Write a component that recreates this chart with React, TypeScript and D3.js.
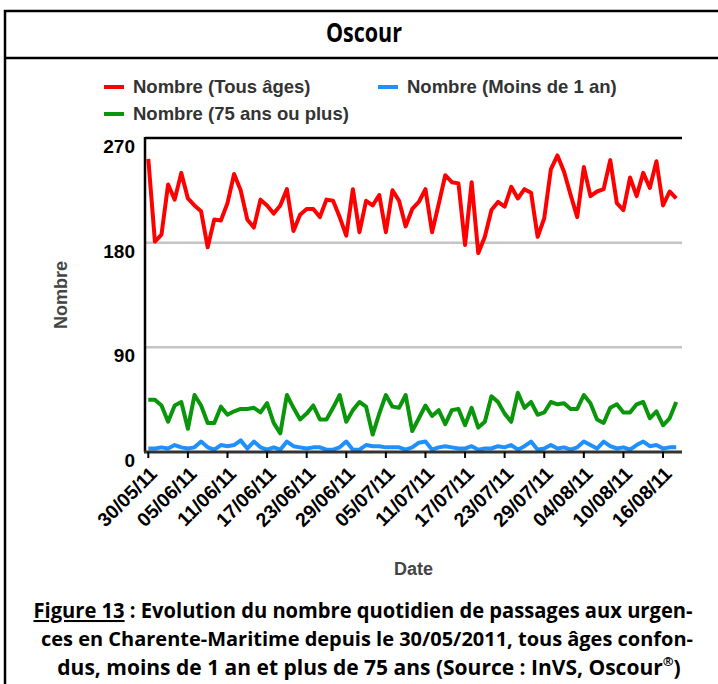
import { useMemo } from 'react';
import * as d3 from 'd3';

// daily counts from 30/05/2011
const START_DATE = '30/05/11';
const TOUS_AGES = [
  252, 181, 187, 230, 217, 240, 218, 212, 207, 176,
  200, 199, 214, 239, 225, 200, 193, 217, 212, 205,
  212, 226, 190, 204, 209, 209, 202, 217, 216, 202,
  186, 226, 189, 216, 212, 221, 189, 225, 216, 194,
  209, 215, 226, 189, 213, 238, 232, 231, 178, 232,
  171, 185, 208, 215, 211, 228, 218, 226, 223, 185,
  201, 243, 255, 241, 221, 202, 245, 220, 224, 226,
  251, 214, 208, 236, 220, 240, 227, 250, 212, 224,
  218,
];
const PLUS_75 = [
  45, 45, 40, 26, 40, 43, 20, 49, 40, 25,
  25, 39, 32, 35, 37, 37, 38, 34, 42, 25,
  16, 49, 38, 28, 33, 40, 28, 28, 38, 49,
  26, 36, 43, 39, 15, 33, 49, 39, 38, 49,
  18, 29, 40, 31, 36, 24, 36, 37, 23, 38,
  21, 26, 48, 43, 33, 26, 51, 38, 43, 32,
  34, 43, 41, 42, 37, 37, 49, 42, 28, 25,
  38, 41, 34, 34, 41, 43, 29, 35, 23, 29,
  43,
];
const MOINS_1 = [
  3, 3, 4, 3, 6, 4, 3, 4, 9, 4,
  2, 6, 5, 6, 10, 3, 9, 4, 2, 4,
  2, 9, 5, 4, 3, 4, 4, 2, 2, 4,
  9, 2, 2, 6, 5, 5, 4, 4, 4, 2,
  4, 8, 9, 2, 4, 5, 4, 3, 3, 5,
  2, 3, 3, 5, 4, 6, 2, 5, 9, 2,
  3, 6, 3, 4, 2, 4, 9, 6, 3, 9,
  5, 3, 4, 2, 6, 9, 5, 6, 3, 4,
  4,
];
const X_TICKS = [
  '30/05/11', '05/06/11', '11/06/11', '17/06/11', '23/06/11', '29/06/11', '05/07/11',
  '11/07/11', '17/07/11', '23/07/11', '29/07/11', '04/08/11', '10/08/11', '16/08/11',
];
const Y_TICKS = [0, 90, 180, 270];

const SERIES = [
  { name: 'Nombre (Tous âges)', values: TOUS_AGES, color: '#ff0000' },
  { name: 'Nombre (Moins de 1 an)', values: MOINS_1, color: '#1e90ff' },
  { name: 'Nombre (75 ans ou plus)', values: PLUS_75, color: '#0a960a' },
];

const parse = d3.timeParse('%d/%m/%y');
const FONT = 'Liberation Sans, Arial, sans-serif';
const CAPTION_FONT = 'Open Sans, sans-serif';

export default function App() {
  const width = 718;
  const height = 684;
  const plot = { left: 145, right: 682, top: 138, bottom: 452 };

  const start = parse(START_DATE) as Date;
  const dates = useMemo(
    () => TOUS_AGES.map((_, i) => d3.timeDay.offset(start, i)),
    [],
  );

  const x = d3
    .scaleTime()
    .domain([d3.timeHour.offset(start, -12), d3.timeHour.offset(dates[dates.length - 1], 21)])
    .range([plot.left, plot.right]);
  const y = d3.scaleLinear().domain([0, 270]).range([plot.bottom, plot.top]);

  const line = d3
    .line<number>()
    .x((_, i) => x(dates[i]))
    .y((v) => y(v));

  const drawOrder = [SERIES[2], SERIES[1], SERIES[0]];

  return (
    <svg
      width={width}
      height={height}
      style={{ position: 'absolute', left: 0, top: 0, display: 'block', background: '#fff' }}
    >
      {/* frame */}
      <rect x={5} y={11} width={740} height={700} fill="none" stroke="#000" strokeWidth={2.5} />
      <line x1={5} x2={718} y1={58} y2={58} stroke="#000" strokeWidth={2.5} />
      <text
        x={364}
        y={42}
        textAnchor="middle"
        fontFamily={CAPTION_FONT}
        fontWeight={700}
        fontSize={27}
        textLength={76}
        lengthAdjust="spacingAndGlyphs"
      >
        Oscour
      </text>

      {/* legend */}
      {SERIES.map((s, i) => {
        const lx = i === 1 ? 378 : 104;
        const ly = i === 2 ? 114 : 87;
        return (
          <g key={s.name}>
            <line x1={lx} x2={lx + 20} y1={ly} y2={ly} stroke={s.color} strokeWidth={4} />
            <text
              x={lx + 29}
              y={ly + 6}
              fontFamily={FONT}
              fontWeight={700}
              fontSize={18.5}
              fill="#333"
            >
              {s.name}
            </text>
          </g>
        );
      })}

      {/* grid */}
      {Y_TICKS.filter((t) => t > 0 && t < 270).map((t) => (
        <line
          key={t}
          x1={plot.left}
          x2={plot.right}
          y1={y(t)}
          y2={y(t)}
          stroke="#c4c4c4"
          strokeWidth={2.5}
        />
      ))}
      <line x1={plot.left} x2={plot.right} y1={y(270)} y2={y(270)} stroke="#000" strokeWidth={2.5} />

      {/* y axis */}
      {Y_TICKS.map((t) => (
        <text
          key={t}
          x={135}
          y={y(t) + 15}
          textAnchor="end"
          fontFamily={FONT}
          fontWeight={700}
          fontSize={19}
          fill="#000"
        >
          {t}
        </text>
      ))}
      <text
        transform={`translate(67, ${(plot.top + plot.bottom) / 2}) rotate(-90)`}
        textAnchor="middle"
        fontFamily={FONT}
        fontWeight={700}
        fontSize={18}
        fill="#444"
      >
        Nombre
      </text>

      {/* series */}
      {drawOrder.map((s) => (
        <path
          key={s.name}
          d={line(s.values) ?? ''}
          fill="none"
          stroke={s.color}
          strokeWidth={4}
          strokeLinejoin="round"
        />
      ))}

      <line x1={plot.left} x2={plot.left} y1={plot.top - 1} y2={plot.bottom} stroke="#000" strokeWidth={2.5} />
      <line x1={plot.left - 1} x2={plot.right} y1={plot.bottom} y2={plot.bottom} stroke="#333" strokeWidth={3} />

      {/* x axis */}
      {X_TICKS.map((lbl) => {
        const tx = x(parse(lbl) as Date);
        return (
          <g key={lbl}>
            <line x1={tx} x2={tx} y1={plot.bottom} y2={plot.bottom + 6} stroke="#000" strokeWidth={2} />
            <text
              transform={`translate(${tx + 10}, ${plot.bottom + 23}) rotate(-45)`}
              textAnchor="end"
              fontFamily={FONT}
              fontWeight={700}
              fontSize={19.5}
              fill="#000"
            >
              {lbl}
            </text>
          </g>
        );
      })}
      <text
        x={(plot.left + plot.right) / 2}
        y={575}
        textAnchor="middle"
        fontFamily={FONT}
        fontWeight={700}
        fontSize={18}
        fill="#444"
      >
        Date
      </text>

      {/* caption */}
      <g fontFamily={CAPTION_FONT} fontWeight={700} fill="#000">
        <text x={363} y={618} fontSize={20.5} textAnchor="middle" textLength={659} lengthAdjust="spacingAndGlyphs">
          <tspan textDecoration="underline">Figure 13</tspan>
          {' : Evolution du nombre quotidien de passages aux urgen-'}
        </text>
        <text x={367} y={646} fontSize={20} textAnchor="middle" textLength={652} lengthAdjust="spacingAndGlyphs">
          ces en Charente-Maritime depuis le 30/05/2011, tous âges confon-
        </text>
        <text x={369} y={675} fontSize={21} textAnchor="middle">
          {'dus, moins de 1 an et plus de 75 ans (Source : InVS, Oscour'}
          <tspan baselineShift="super" fontSize={13}>®</tspan>
          {')'}
        </text>
      </g>
    </svg>
  );
}
